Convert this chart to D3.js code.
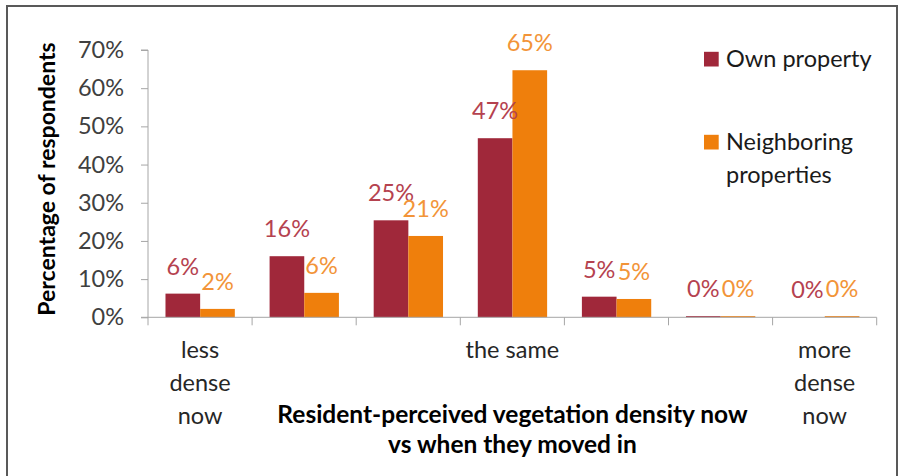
<!DOCTYPE html>
<html><head><meta charset="utf-8">
<script src="https://cdn.jsdelivr.net/npm/d3@7"></script>
<style>html,body{margin:0;padding:0;background:#fff;}svg{display:block;font-family:Lato,"Open Sans",sans-serif;}</style>
</head><body>
<svg id="c" width="899" height="476"></svg>
<script>
const categories = [["less","dense","now"], [], [], ["the same"], [], [], ["more","dense","now"]];
const seriesNames = ["Own property", "Neighboring properties"];
const ownValues = [6.2, 16.0, 25.4, 46.9, 5.4, 0.3, 0];
const neighborValues = [2.2, 6.4, 21.3, 64.7, 4.8, 0.3, 0.3];
const yTicks = [0, 10, 20, 30, 40, 50, 60, 70];
const xTitle = ["Resident-perceived vegetation density now", "vs when they moved in"];
const yTitle = "Percentage of respondents";

const barColors = ["#A0283A", "#EF7F0C"];
const labelColors = ["#B5424F", "#F29438"];
const FS = "23.5px";

const svg = d3.select("#c");
svg.append("rect").attr("x", 7).attr("y", 6).attr("width", 890).attr("height", 490)
  .attr("fill", "none").attr("stroke", "#595959").attr("stroke-width", 2);

const y = d3.scaleLinear().domain([0, 70]).range([317.3, 50]);
const x0 = d3.scaleBand().domain(d3.range(categories.length)).range([148, 876.7]).padding(0);
const x1 = d3.scaleBand().domain([0, 1]).range([x0.bandwidth() * 0.168, x0.bandwidth() * 0.834]).padding(0);

// y axis
const yAxis = d3.axisLeft(y).tickValues(yTicks).tickFormat(d => d + "%").tickSize(7).tickPadding(17);
const gy = svg.append("g").attr("transform", "translate(148,0)").call(yAxis);
gy.select(".domain").attr("stroke", "#A6A6A6").attr("d", `M-7,${y(70)}H0V${y(0)}H-7`);
gy.selectAll(".tick line").attr("stroke", "#A6A6A6");
gy.selectAll(".tick text").attr("fill", "#404040").style("font-size", FS).style("font-family", "Lato");

// bars
const data = categories.map((c, i) => ({i, vals: [ownValues[i], neighborValues[i]]}));
const groups = svg.append("g").selectAll("g").data(data).join("g")
  .attr("transform", d => `translate(${x0(d.i)},0)`);
groups.selectAll("rect").data(d => d.vals.map((v, s) => ({v, s}))).join("rect")
  .attr("x", d => x1(d.s)).attr("width", x1.bandwidth())
  .attr("y", d => y(d.v)).attr("height", d => y(0) - y(d.v))
  .attr("fill", d => barColors[d.s]);
groups.selectAll("text").data(d => d.vals.map((v, s) => ({v, s}))).join("text")
  .attr("x", d => x1(d.s) + x1.bandwidth() / 2).attr("y", d => y(d.v) - 19)
  .attr("text-anchor", "middle").style("font-size", FS)
  .attr("fill", d => labelColors[d.s]).text(d => Math.round(d.v) + "%");

// x axis
const gx = svg.append("g");
gx.append("line").attr("x1", 148).attr("x2", 876.7).attr("y1", y(0)).attr("y2", y(0))
  .attr("stroke", "#A6A6A6");
const bounds = d3.range(categories.length + 1).map(i => x0.range()[0] + i * x0.step());
gx.selectAll("line.b").data(bounds).join("line").attr("class", "b")
  .attr("x1", d => d).attr("x2", d => d).attr("y1", y(0)).attr("y2", y(0) + 8)
  .attr("stroke", "#A6A6A6");
const catText = gx.selectAll("text").data(data).join("text")
  .attr("text-anchor", "middle").style("font-size", FS).attr("fill", "#262626");
catText.selectAll("tspan").data(d => categories[d.i].map(t => ({t, x: x0(d.i) + x0.bandwidth() / 2}))).join("tspan")
  .attr("x", d => d.x).attr("y", (d, k) => 358 + k * 33).text(d => d.t);

// axis titles
svg.append("text").attr("text-anchor", "middle").style("font-size", "24.5px").style("font-weight", "bold")
  .attr("fill", "#000").selectAll("tspan").data(xTitle).join("tspan")
  .attr("x", 512.5).attr("y", (d, k) => 422.5 + k * 30.5).text(d => d);
svg.append("text").attr("transform", "translate(55,179) rotate(-90)").attr("text-anchor", "middle")
  .style("font-size", "23px").style("font-weight", "bold").attr("fill", "#000").text(yTitle);

// legend
const legendLines = [["Own property"], ["Neighboring", "properties"]];
const legendY = [66.5, 149.5];
const lg = svg.append("g").selectAll("g").data(seriesNames).join("g");
lg.append("rect").attr("x", 704).attr("y", (d, i) => legendY[i] - 14.7).attr("width", 14.7).attr("height", 14.7)
  .attr("fill", (d, i) => barColors[i]);
lg.append("text").style("font-size", FS).attr("fill", "#1a1a1a")
  .selectAll("tspan").data((d, i) => legendLines[i].map(t => ({t, i}))).join("tspan")
  .attr("x", 726).attr("y", (d, k) => legendY[d.i] + k * 33).text(d => d.t);
</script>
</body></html>
